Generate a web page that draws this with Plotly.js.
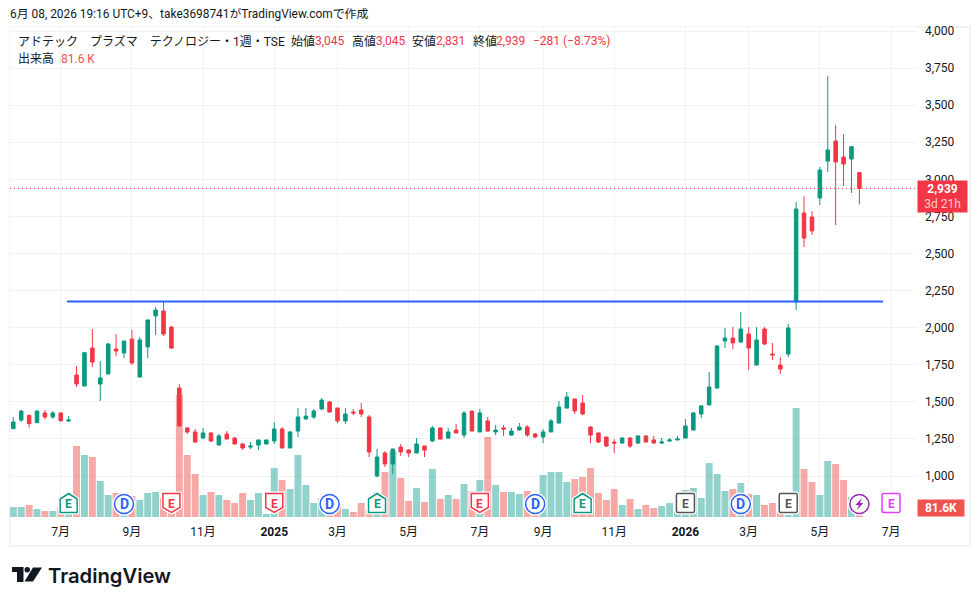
<!DOCTYPE html>
<html>
<head>
<meta charset="utf-8">
<script src="https://cdn.plot.ly/plotly-3.0.1.min.js"></script>
<style>
  html, body { margin: 0; padding: 0; background: #fff; overflow: hidden; }
  #frame { position: absolute; left: 9px; top: 26px; width: 958px; height: 517px; border: 2px solid #f1f2f4; }
  #plotly { position: absolute; left: 0; top: 0; width: 980px; height: 605px; }
</style>
</head>
<body>
<div id="frame"></div>
<div id="plotly"></div>
<script>
// weekly bars
var open = [1319,1377,1409,1360,1425,1398,1425,1371,1681,1607,1863,1620,1688,1856,1829,1923,1667,1870,2079,2112,2004,1593,1324,1297,1256,1290,1209,1283,
  1256,1216,1195,1209,1216,1236,1317,1189,1303,1384,1398,1452,1499,1458,1371,1431,1445,1398,1000,1155,1081,1195,1175,1155,1202,1236,1324,1256,
  1310,1276,1438,1297,1371,1297,1324,1276,1310,1330,1283,1263,1297,1357,1458,1519,1492,1330,1290,1263,1229,1222,1256,1222,1270,1243,1222,1236,1243,
  1256,1310,1418,1479,1593,1910,1930,1903,1957,1748,1991,1822,1748,1822,2173,2773,2746,2874,3123,3258,3150,3137,3045];
var high = [1398,1445,1411,1440,1445,1438,1427,1404,1742,1836,1991,1775,1897,1957,1912,1984,1937,2054,2139,2180,2011,1620,1330,1317,1324,1297,1283,1303,
  1263,1222,1229,1245,1245,1364,1330,1303,1458,1458,1452,1526,1506,1460,1458,1452,1492,1411,1182,1168,1184,1216,1182,1256,1204,1337,1326,1324,
  1351,1438,1440,1452,1398,1344,1344,1324,1357,1344,1290,1317,1384,1506,1566,1521,1546,1337,1292,1265,1249,1263,1263,1272,1272,1270,1256,1256,1270,
  1384,1431,1479,1701,1883,1998,2004,2105,2004,2004,2004,1897,1802,2025,2847,2887,2786,3083,3696,3366,3305,3220,3045];
var low = [1317,1366,1326,1360,1382,1386,1364,1364,1600,1605,1735,1506,1686,1809,1795,1748,1665,1795,1950,1944,1856,1335,1283,1227,1249,1229,1207,1247,
  1214,1175,1182,1175,1214,1216,1187,1187,1263,1382,1384,1445,1429,1357,1351,1411,1398,1128,993,1061,1013,1135,1128,1153,1128,1229,1247,1249,
  1288,1256,1301,1295,1297,1276,1270,1270,1308,1263,1256,1222,1295,1355,1456,1418,1411,1222,1222,1195,1155,1220,1189,1216,1227,1220,1216,1229,1241,
  1254,1308,1391,1477,1591,1863,1856,1901,1715,1746,1883,1782,1688,1802,2119,2544,2625,2827,3049,2692,2955,2908,2831];
var close = [1364,1438,1353,1438,1398,1425,1373,1377,1620,1831,1768,1661,1890,1843,1910,1762,1917,2052,2119,1957,1863,1337,1297,1229,1290,1236,1270,1249,
  1216,1189,1202,1243,1243,1317,1189,1297,1398,1404,1438,1512,1431,1371,1418,1425,1418,1162,1128,1081,1182,1162,1155,1216,1175,1324,1249,1297,
  1290,1425,1303,1425,1303,1310,1317,1303,1330,1276,1263,1297,1371,1465,1533,1438,1418,1276,1229,1202,1222,1256,1202,1270,1229,1222,1229,1243,1249,
  1337,1425,1472,1600,1876,1930,1897,1991,1863,1917,1890,1816,1721,1998,2800,2604,2652,3063,3198,3117,3103,3220,2939];
// volume in thousands
var volume = [300,300,360,240,180,180,300,90,2130,1860,1800,1080,660,720,80,630,510,720,750,570,300,3660,1860,1290,660,750,660,510,
  420,720,510,720,90,1470,1110,840,1860,960,420,560,60,360,240,150,420,200,740,1350,1980,1170,480,870,450,1440,540,660,540,
  990,780,1110,2400,960,750,750,690,780,60,1260,1350,1350,1050,1140,1200,1470,720,510,840,360,540,240,360,270,330,420,150,
  810,870,570,1620,1290,780,840,1020,690,660,360,420,150,60,3270,1440,1050,660,1680,1590,1110,600,81.6];

var priceTicks = [1000,1250,1500,1750,2000,2250,2500,2750,3000,3250,3500,3750,4000];
var monthTicks = ['2024-07-01','2024-09-02','2024-11-04','2025-01-06','2025-03-03','2025-05-05','2025-07-07','2025-09-01','2025-11-03','2026-01-05','2026-03-02','2026-05-04','2026-07-06'];
var monthLabels = ['7月','9月','11月','<b>2025</b>','3月','5月','7月','9月','11月','<b>2026</b>','3月','5月','7月'];

var levelX = ['2024-07-06 12:00','2026-06-29'];
var levelY = [2176,2176];

// [week, kind, colour, letter]
var events = [
  ['2024-07-08','up','#089981','E'],
  ['2024-08-26','round','#2962ff','D'],
  ['2024-10-07','down','#f23645','E'],
  ['2025-01-06','down','#f23645','E'],
  ['2025-02-24','round','#2962ff','D'],
  ['2025-04-07','up','#089981','E'],
  ['2025-07-07','down','#f23645','E'],
  ['2025-08-25','round','#2962ff','D'],
  ['2025-10-06','up','#089981','E'],
  ['2026-01-05','square','#555555','E'],
  ['2026-02-23','round','#2962ff','D'],
  ['2026-04-06','square','#555555','E'],
  ['2026-06-08','round','#9c27b0',''],
  ['2026-07-06','square','#e040fb','E']
];

var GREEN = '#089981', RED = '#f23645', VOL_RED = '#ef5350';
var FONT = 'Roboto, "Noto Sans CJK JP", sans-serif';

var dates = [];
var d = new Date(Date.UTC(2024, 4, 20));
for (var i = 0; i < open.length; i++) {
  dates.push(d.toISOString().slice(0, 10));
  d = new Date(d.getTime() + 7 * 86400000);
}

var volumeColors = close.map(function (c, i) {
  return c >= open[i] ? 'rgba(38,166,154,0.5)' : 'rgba(239,83,80,0.5)';
});

var volumeTrace = {
  type: 'bar', x: dates, y: volume, yaxis: 'y2',
  marker: { color: volumeColors, line: { width: 0 } }, hoverinfo: 'skip'
};
var candleTrace = {
  type: 'candlestick', x: dates, open: open, high: high, low: low, close: close,
  increasing: { line: { color: GREEN, width: 1 }, fillcolor: GREEN },
  decreasing: { line: { color: RED, width: 1 }, fillcolor: RED },
  whiskerwidth: 0, hoverinfo: 'skip'
};
var levelTrace = {
  type: 'scatter', mode: 'lines', x: levelX, y: levelY,
  line: { color: '#2962ff', width: 2 }, hoverinfo: 'skip'
};

var lastClose = close[close.length - 1];

var shapes = [{
  type: 'line', xref: 'paper', x0: 0, x1: 1, yref: 'y', y0: lastClose, y1: lastClose,
  line: { color: RED, width: 1, dash: '1px,3px' }
}];

var annotations = [];

function note(text, px, py, size, color, extra) {
  var a = {
    text: text, xref: 'paper', yref: 'paper', x: (px - 11.5) / 907, y: (517 - py) / 490,
    xanchor: 'left', yanchor: 'middle', showarrow: false,
    font: { family: FONT, size: size, color: color }, borderpad: 0
  };
  return Object.assign(a, extra || {});
}

annotations.push(note('6月 08, 2026 19:16 UTC+9、take3698741がTradingView.comで作成', 10, 14, 11.9, '#131722'));
annotations.push(note('アドテック　プラズマ　テクノロジー・1週・TSE', 18, 41, 12, '#131722'));
[['始値', 291, '3,045', 315], ['高値', 352, '3,045', 376], ['安値', 412, '2,831', 436], ['終値', 473, '2,939', 497]].forEach(function (o) {
  annotations.push(note(o[0], o[1], 41, 12, '#131722'));
  annotations.push(note(o[2], o[3], 41, 12, RED));
});
annotations.push(note('−281 (−8.73%)', 533, 41, 12, RED));
annotations.push(note('出来高', 18, 59, 12, '#131722'));
annotations.push(note('81.6 K', 61, 59, 12, VOL_RED));

// last price and volume tags on the price scale
annotations.push({
  text: '<b>' + lastClose.toLocaleString('en-US') + '</b><br><span style="color:#ffc9cd">3d 21h</span>',
  xref: 'paper', x: 1, xanchor: 'left', yref: 'y', y: lastClose, yanchor: 'top', yshift: 8.5,
  width: 49, height: 31, align: 'center', valign: 'middle', showarrow: false, bgcolor: RED, borderpad: 0,
  font: { family: FONT, size: 12, color: '#ffffff' }
});
annotations.push({
  text: '<b>81.6K</b>',
  xref: 'paper', x: 1, xanchor: 'left', yref: 'y2', y: 0, yanchor: 'bottom',
  width: 46, height: 16, align: 'center', valign: 'middle', showarrow: false, bgcolor: VOL_RED, borderpad: 0,
  font: { family: FONT, size: 12, color: '#ffffff' }
});

// event badges sit on the time axis, sizes in pixels above the baseline
function badge(ev) {
  var base = { xsizemode: 'pixel', ysizemode: 'pixel', xanchor: ev[0], yanchor: 0, xref: 'x', yref: 'y2', layer: 'above' };
  var paths = {
    up: 'M -8.5 4.5 L -8.5 18 L 0 23.5 L 8.5 18 L 8.5 4.5 Z',
    down: 'M -8.5 23.5 L 8.5 23.5 L 8.5 9.5 L 0 4.5 L -8.5 9.5 Z',
    square: 'M -7.5 4.5 Q -9 4.5 -9 6 L -9 22 Q -9 23.5 -7.5 23.5 L 7.5 23.5 Q 9 23.5 9 22 L 9 6 Q 9 4.5 7.5 4.5 Z'
  };
  [['#ffffff', 4], [ev[2], 1.5]].forEach(function (st) {
    var s = Object.assign({}, base, { fillcolor: '#ffffff', line: { color: st[0], width: st[1] } });
    if (ev[1] === 'round') {
      s.type = 'circle'; s.x0 = -9.5; s.x1 = 9.5; s.y0 = 3.5; s.y1 = 22.5;
    } else {
      s.type = 'path'; s.path = paths[ev[1]];
    }
    shapes.push(s);
  });
  if (ev[3]) {
    annotations.push({
      text: '<b>' + ev[3] + '</b>', xref: 'x', x: ev[0], yref: 'y2', y: 0, yanchor: 'middle', xanchor: 'center',
      yshift: 13, showarrow: false, font: { family: FONT, size: ev[3] === 'D' ? 14 : 12, color: ev[2] }
    });
  } else {
    shapes.push(Object.assign({}, base, {
      type: 'path', path: 'M 2.5 19 L -4 12 L -0.5 12 L -2.5 7 L 4 14 L 0.5 14 Z',
      fillcolor: ev[2], line: { width: 0 }
    }));
  }
}
events.forEach(badge);

// TradingView mark, pixels relative to the bottom left of the plot
var logoBase = { xsizemode: 'pixel', ysizemode: 'pixel', xanchor: 0, yanchor: 0, xref: 'paper', yref: 'paper',
  fillcolor: '#131722', line: { width: 0 } };
shapes.push(Object.assign({}, logoBase, { type: 'path', path: 'M 2 -50 L 13.5 -50 L 13.5 -65 L 7 -65 L 7 -55 L 2 -55 Z' }));
shapes.push(Object.assign({}, logoBase, { type: 'circle', x0: 14.5, x1: 20, y0: -55.5, y1: -50 }));
shapes.push(Object.assign({}, logoBase, { type: 'path', path: 'M 23 -50.5 L 32 -50.5 L 23 -64.5 L 14.5 -64.5 Z' }));
annotations.push(note('TradingView', 48.5, 575, 20.2, '#131722', { font: { family: 'Inter, sans-serif', size: 20.2, color: '#131722', weight: 600 } }));

var layout = {
  width: 980, height: 605,
  margin: { l: 10, r: 63, t: 27, b: 88, pad: 0 },
  paper_bgcolor: 'rgba(0,0,0,0)', plot_bgcolor: '#ffffff',
  showlegend: false, bargap: 0.12, boxgap: 0.36,
  font: { family: FONT, color: '#131722', size: 12 },
  xaxis: {
    type: 'date', range: ['2024-05-17 02:00', '2026-07-29'],
    tickmode: 'array', tickvals: monthTicks, ticktext: monthLabels, ticklen: 0, ticklabelstandoff: 6,
    showgrid: true, gridcolor: '#f1f2f4', gridwidth: 1, zeroline: false, showline: false,
    rangeslider: { visible: false }, fixedrange: true
  },
  yaxis: {
    overlaying: 'y2', side: 'right', range: [723.6, 4027],
    tickmode: 'array', tickvals: priceTicks, ticklen: 0, ticklabelstandoff: 7, tickformat: ',d',
    showgrid: true, gridcolor: '#f1f2f4', gridwidth: 1, zeroline: false, showline: false, fixedrange: true
  },
  yaxis2: {
    range: [0, 14700], visible: false, showgrid: false, zeroline: false, fixedrange: true
  },
  shapes: shapes, annotations: annotations
};

Plotly.newPlot('plotly', [volumeTrace, candleTrace, levelTrace], layout, { displayModeBar: false, staticPlot: true });
</script>
</body>
</html>
